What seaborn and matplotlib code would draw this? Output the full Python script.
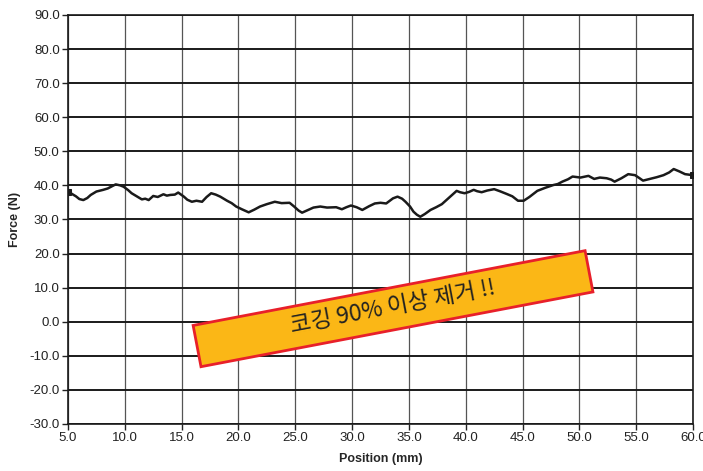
import matplotlib
matplotlib.use("Agg")
import matplotlib.pyplot as plt
import matplotlib.patches as mpatches
from matplotlib.transforms import Affine2D
import seaborn as sns
import pandas as pd

# Force vs position readings
position = [5.0, 5.3, 5.7, 6.0, 6.35, 6.7, 7.0, 7.5, 8.1, 8.5, 8.9, 9.2, 9.6, 9.9,
            10.3, 10.6, 11.0, 11.5, 11.8, 12.1, 12.5, 12.9, 13.4, 13.7, 14.0, 14.4,
            14.7, 15.2, 15.5, 15.9, 16.3, 16.8, 17.2, 17.6, 18.0, 18.4, 19.0, 19.4,
            19.8, 20.3, 20.9, 21.4, 21.9, 22.5, 23.2, 23.8, 24.5, 24.9, 25.3, 25.6,
            26.0, 26.6, 27.2, 27.8, 28.6, 29.1, 29.5, 29.9, 30.4, 30.9, 31.5, 32.0,
            32.5, 33.0, 33.6, 34.0, 34.4, 34.7, 35.1, 35.4, 35.7, 36.0, 36.4, 36.9,
            37.4, 37.9, 38.5, 39.2, 39.5, 39.9, 40.3, 40.7, 41.0, 41.4, 41.9, 42.5,
            43.0, 43.6, 44.1, 44.6, 45.1, 45.6, 46.3, 47.0, 47.7, 48.1, 48.5, 49.0,
            49.4, 50.1, 50.8, 51.3, 51.8, 52.4, 52.8, 53.1, 53.7, 54.3, 54.9, 55.3,
            55.6, 56.2, 56.8, 57.4, 57.9, 58.3, 58.8, 59.3, 60.0]
force = [38.1, 37.6, 36.8, 36.0, 35.7, 36.3, 37.2, 38.2, 38.7, 39.1, 39.8, 40.3, 40.0, 39.6,
         38.6, 37.7, 36.9, 35.9, 36.1, 35.7, 36.9, 36.6, 37.4, 37.0, 37.2, 37.3,
         37.9, 36.7, 35.8, 35.2, 35.5, 35.2, 36.6, 37.7, 37.3, 36.7, 35.5, 34.8,
         33.8, 33.0, 32.1, 32.9, 33.8, 34.5, 35.2, 34.8, 34.9, 33.8, 32.6, 32.0,
         32.6, 33.5, 33.8, 33.5, 33.6, 33.0, 33.6, 34.1, 33.6, 32.8, 33.9, 34.7,
         34.9, 34.7, 36.2, 36.7, 36.1, 35.2, 33.8, 32.3, 31.4, 30.8, 31.6, 32.8,
         33.6, 34.5, 36.3, 38.4, 38.0, 37.7, 38.1, 38.7, 38.3, 38.0, 38.5, 38.9,
         38.3, 37.5, 36.8, 35.5, 35.5, 36.6, 38.4, 39.3, 40.1, 40.4, 41.1, 41.8,
         42.6, 42.3, 42.8, 41.9, 42.3, 42.1, 41.7, 41.1, 42.1, 43.3, 43.0, 42.1,
         41.4, 41.9, 42.4, 43.0, 43.8, 44.8, 44.1, 43.3, 43.0]

x_ticks = [5, 10, 15, 20, 25, 30, 35, 40, 45, 50, 55, 60]
y_ticks = [-30, -20, -10, 0, 10, 20, 30, 40, 50, 60, 70, 80, 90]
note = "코깅 90% 이상 제거 !!"

df = pd.DataFrame({"Position": position, "Force": force})

sns.set_style("white")
plt.rcParams['font.family'] = ['Liberation Sans Narrow', 'Liberation Sans', 'DejaVu Sans']

fig = plt.figure(figsize=(7.03, 4.71), dpi=100)
ax = fig.add_axes([0.0967, 0.0998, 0.8891, 0.8684])

# grid
for xv in x_ticks:
    ax.axvline(xv, color="#555555", lw=0.9, zorder=1)
for yv in y_ticks:
    ax.axhline(yv, color="#1a1a1a", lw=1.4, zorder=1)

sns.lineplot(data=df, x="Position", y="Force", ax=ax, color="#1a1a1a", lw=1.8,
             marker="s", markersize=4, markeredgecolor="#1a1a1a",
             markerfacecolor="#1a1a1a", markevery=[0, len(df) - 1], zorder=3)

ax.set_xlim(5, 60)
ax.set_ylim(-30, 90)
ax.set_xticks(x_ticks)
ax.set_xticklabels([f"{v:.1f}" for v in x_ticks])
ax.set_yticks(y_ticks)
ax.set_yticklabels([f"{v:.1f}" for v in y_ticks])
ax.tick_params(axis="both", direction="out", length=4, width=1, labelsize=9.5,
               colors="#222222", pad=2, left=True, bottom=True)
ax.set_xlabel("Position (mm)", fontsize=9, fontweight="bold", labelpad=6)
ax.set_ylabel("Force (N)", fontsize=9, fontweight="bold", labelpad=6)
for s in ax.spines.values():
    s.set_color("#1a1a1a")
    s.set_linewidth(1.2)

# rotated callout box (pixel coords, origin bottom-left)
angle = 10.8
rect = mpatches.Rectangle((0, 0), 399, 42, facecolor="#fbb716", edgecolor="#e8202a",
                          lw=2, transform=Affine2D().rotate_deg(angle).translate(201, 104.3),
                          zorder=5)
fig.patches.append(rect)
fig.text(393 / 703, 1 - 307 / 471, note, rotation=angle, ha="center", va="center",
         fontsize=16.5, color="#222222", zorder=6,
         family=["Noto Sans CJK KR", "DejaVu Sans"], rotation_mode="anchor")

fig.savefig("out.png", dpi=100)
